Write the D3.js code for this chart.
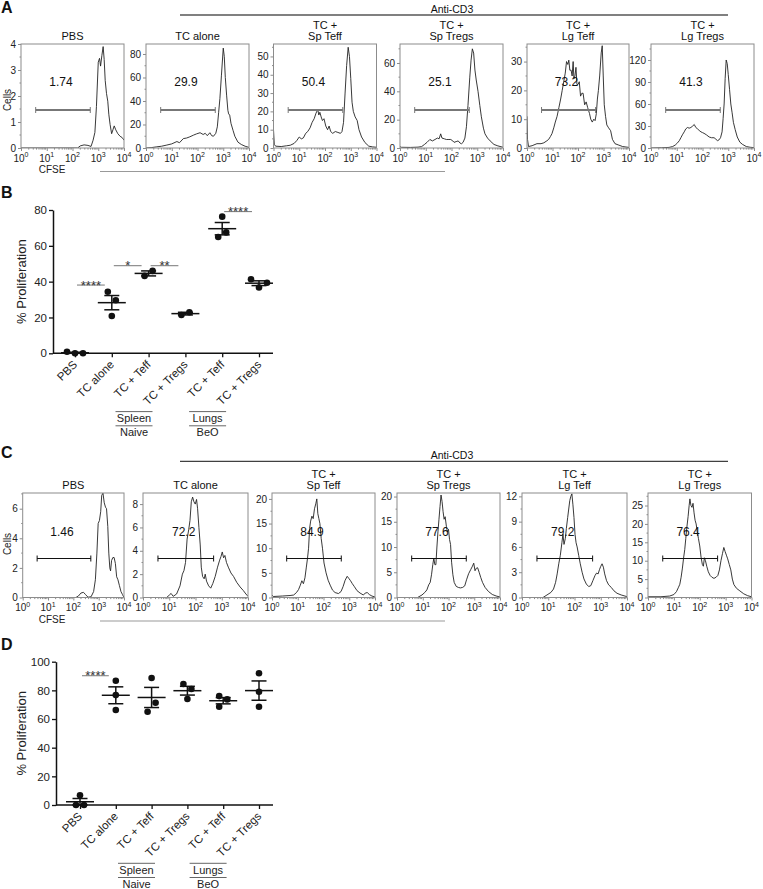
<!DOCTYPE html>
<html><head><meta charset="utf-8">
<script src="https://cdn.jsdelivr.net/npm/d3@7"></script>
<style>body{margin:0;background:#fff}svg{display:block}</style>
</head><body><svg id="c" width="763" height="889"></svg>
<script>
// ---------------- DATA ----------------
const histTitles = [["PBS"],["TC alone"],["TC +","Sp Teff"],["TC +","Sp Tregs"],["TC +","Lg Teff"],["TC +","Lg Tregs"]];
const gateLabelsA = ["1.74","29.9","50.4","25.1","73.2","41.3"];
const gateLabelsC = ["1.46","72.2","84.9","77.6","79.2","76.4"];
const decades = [0,1,2,3,4];
const gateRange = [0.57, 2.69];
const yTicksA = [[0,1,2,3,4],[0,20,40,60,80],[0,10,20,30,40,50],[0,20,40,60],[0,10,20,30],[0,30,60,90,120]];
const yMaxA = [4.0, 88.5, 56.8, 73.4, 36.1, 141.8];
const yTicksC = [[0,2,4,6],[0,2,4,6,8],[0,5,10,15,20],[0,5,10,15,20],[0,3,6,9,12],[0,5,10,15,20,25]];
const yMaxC = [7.06, 8.95, 21.2, 20.7, 12.4, 28.4];

// histograms: [log10 CFSE, cells]
const histA_PBS = [[0,0],[1,0],[2.2,0],[2.3,0.08],[2.45,0.12],[2.6,0.1],[2.72,0.06],[2.8,0.3],[2.87,0.6],[2.93,1.6],[3.0,3.3],[3.05,3.45],[3.09,3.15],[3.14,3.55],[3.19,3.9],[3.23,3.4],[3.27,2.6],[3.32,2.1],[3.37,1.8],[3.41,1.3],[3.46,0.9],[3.52,0.55],[3.57,0.7],[3.62,0.85],[3.68,0.7],[3.76,0.55],[3.85,0.45],[3.93,0.4],[4.0,0.3]];
const histA_TC = [[0,0],[0.2,0.3],[0.42,1],[0.6,1.5],[0.81,2.5],[1.0,3.5],[1.2,5.5],[1.3,4.5],[1.45,8],[1.58,8.5],[1.7,9.5],[1.85,11],[1.96,12],[2.1,13],[2.22,11.5],[2.3,12.5],[2.38,10.5],[2.48,13],[2.55,10.5],[2.62,10],[2.71,12.5],[2.77,18],[2.82,30],[2.87,42],[2.93,62],[3.0,85],[3.04,78],[3.08,60],[3.13,45],[3.18,32],[3.21,29],[3.25,28],[3.3,21],[3.38,15],[3.45,10],[3.57,5],[3.7,3],[3.85,1.5],[4.0,0.5]];
const histA_SpTeff = [[0,10],[0.03,2],[0.08,1],[0.3,0.8],[0.5,1.2],[0.65,1.5],[0.8,2.5],[0.9,4],[1.0,6],[1.08,5],[1.16,5.5],[1.25,8],[1.33,9],[1.42,11],[1.5,14],[1.58,16],[1.65,19],[1.72,21],[1.76,18],[1.8,19.5],[1.85,17],[1.9,15],[1.96,16],[2.03,12],[2.1,10],[2.16,12],[2.22,9],[2.3,8],[2.4,9],[2.5,8.5],[2.6,8],[2.66,9],[2.72,14],[2.78,30],[2.84,45],[2.9,55],[2.95,50],[3.0,38],[3.05,25],[3.1,20],[3.17,17],[3.25,15],[3.32,10],[3.42,6],[3.55,3],[3.7,1],[3.85,0.6],[4.0,0.4]];
const histA_SpTregs = [[0,1],[0.05,0.5],[0.4,0.4],[0.7,0.6],[0.84,1],[0.95,2.5],[1.05,4],[1.16,6],[1.26,5],[1.36,6],[1.45,7],[1.52,6.5],[1.58,10],[1.63,7],[1.72,6.5],[1.8,6],[1.9,6],[1.97,6],[2.05,5],[2.1,4],[2.18,4.5],[2.26,5],[2.33,3.5],[2.39,3],[2.45,4],[2.52,7],[2.58,15],[2.64,30],[2.71,50],[2.76,62],[2.81,70],[2.86,67],[2.91,55],[2.96,48],[3.03,40],[3.1,30],[3.16,22],[3.24,14],[3.3,10],[3.4,7],[3.5,5],[3.65,2.5],[3.8,1.5],[4.0,0.5]];
const histA_LgTeff = [[0,11],[0.02,3],[0.06,0.5],[0.2,0.8],[0.39,1.5],[0.55,1.5],[0.66,1.8],[0.78,2.5],[0.85,3],[0.92,4],[0.98,5],[1.05,7],[1.11,9],[1.18,11],[1.25,14],[1.32,17],[1.38,20],[1.44,23],[1.5,26],[1.55,30],[1.6,29],[1.64,30.5],[1.68,27],[1.73,27],[1.77,25],[1.81,30],[1.84,24],[1.88,25],[1.92,28],[1.96,22],[2.0,22],[2.05,23],[2.1,18],[2.15,19],[2.2,19],[2.26,15],[2.32,16],[2.38,14],[2.45,12],[2.5,10],[2.56,9],[2.62,10],[2.67,9.5],[2.72,12],[2.76,17],[2.8,20],[2.85,25],[2.91,33],[2.95,35.5],[2.99,25],[3.03,15],[3.08,11],[3.13,8],[3.2,7],[3.28,6],[3.35,3],[3.45,1.5],[3.6,1],[3.75,0.5],[4.0,0.2]];
const histA_LgTregs = [[0,0],[0.4,0.3],[0.7,0.8],[0.84,2],[0.94,4],[1.03,7],[1.1,10],[1.16,14],[1.22,18],[1.29,22],[1.35,26],[1.42,28],[1.48,27],[1.55,28],[1.62,30],[1.68,32],[1.74,28],[1.81,26],[1.87,24],[1.94,22],[2.0,21],[2.06,20],[2.15,18],[2.26,15],[2.35,14],[2.45,14],[2.52,12],[2.58,10],[2.64,11],[2.7,14],[2.76,22],[2.8,40],[2.84,60],[2.88,95],[2.92,120],[2.96,115],[3.0,100],[3.05,80],[3.1,60],[3.15,48],[3.2,35],[3.27,25],[3.35,15],[3.45,8],[3.55,5],[3.7,2],[3.85,1],[4.0,0.5]];

const histC_PBS = [[0,0],[1,0],[2.1,0],[2.2,0.1],[2.3,0.3],[2.4,0.35],[2.48,0.2],[2.58,0.02],[2.7,0.05],[2.8,0.4],[2.87,1.2],[2.93,3],[2.98,5],[3.03,5.2],[3.08,5.8],[3.12,6.9],[3.17,7.05],[3.22,6.4],[3.27,6.1],[3.31,6.0],[3.36,4.8],[3.4,3.0],[3.44,2.0],[3.47,1.8],[3.51,2.5],[3.56,2.7],[3.61,2.7],[3.66,2.3],[3.71,1.4],[3.76,1.2],[3.82,0.8],[3.88,0.4],[3.94,0.2],[4.0,0]];
const histC_TC = [[0,0],[0.9,0],[1.0,0.2],[1.07,0.35],[1.15,0.1],[1.28,0.3],[1.41,1],[1.5,2],[1.56,2.3],[1.62,3],[1.68,5],[1.74,5.8],[1.79,6.6],[1.84,8.2],[1.89,8.6],[1.94,8.2],[1.99,8.0],[2.04,8.4],[2.08,7.6],[2.13,6],[2.18,4.5],[2.22,2.6],[2.27,1.8],[2.33,1.6],[2.37,2.0],[2.42,1.4],[2.5,1.0],[2.58,0.8],[2.66,1.2],[2.75,1.8],[2.84,2.6],[2.92,3.2],[2.97,3.5],[3.02,3.9],[3.07,3.4],[3.12,3.6],[3.18,3.0],[3.25,2.6],[3.35,2.1],[3.45,1.8],[3.57,1.3],[3.7,0.9],[3.82,0.6],[3.92,0.3],[4.0,0.1]];
const histC_SpTeff = [[0,0.5],[0.05,0.2],[0.4,0.3],[0.7,0.4],[0.84,0.5],[0.95,1],[1.03,1.6],[1.1,2.5],[1.16,3.4],[1.22,2.8],[1.28,4],[1.33,6],[1.38,8],[1.42,10],[1.46,14],[1.5,15.5],[1.55,16.5],[1.6,16],[1.65,18],[1.7,19],[1.74,20],[1.78,17],[1.82,16],[1.86,15],[1.91,12],[1.96,10],[2.02,7],[2.1,5],[2.18,3.5],[2.26,2.5],[2.35,1.5],[2.45,1],[2.58,0.8],[2.68,1.2],[2.76,2.2],[2.84,3.5],[2.92,4.3],[2.98,3.9],[3.05,3.4],[3.12,2.8],[3.2,2.2],[3.3,1.4],[3.42,0.9],[3.55,0.5],[3.62,0.9],[3.7,1.0],[3.78,0.6],[3.88,0.3],[4.0,0.1]];
const histC_SpTregs = [[0,0],[0.8,0],[0.97,0.5],[1.08,1],[1.16,1.5],[1.23,2.5],[1.29,3],[1.34,4.5],[1.39,6.5],[1.43,7.8],[1.47,6.5],[1.51,6.5],[1.55,10],[1.59,13],[1.63,15.5],[1.67,18],[1.71,20.3],[1.75,19],[1.79,17],[1.83,15.5],[1.87,16],[1.92,14],[1.96,13],[2.0,13.5],[2.04,11.5],[2.08,10.5],[2.12,7],[2.17,4.5],[2.22,3],[2.3,2.2],[2.38,2.0],[2.46,1.9],[2.55,2],[2.63,2.3],[2.7,3.5],[2.78,4.7],[2.86,5.5],[2.93,6.2],[2.98,6.8],[3.03,5.3],[3.08,5.8],[3.13,5.9],[3.19,5],[3.25,4],[3.32,3],[3.42,2],[3.55,1.2],[3.7,0.6],[3.85,0.3],[4.0,0.1]];
const histC_LgTeff = [[0,0],[0.8,0],[0.95,0.3],[1.1,0.6],[1.2,1],[1.28,1.8],[1.34,2.8],[1.4,4],[1.46,5],[1.52,6.5],[1.56,7.5],[1.6,6.3],[1.65,7],[1.69,8.2],[1.74,9.5],[1.78,10.5],[1.82,11.5],[1.86,12],[1.9,12.3],[1.94,11],[1.98,9.5],[2.02,7.5],[2.06,6.5],[2.1,6],[2.16,5],[2.22,4],[2.29,3],[2.36,2.2],[2.45,1.6],[2.54,1.3],[2.62,1.4],[2.7,2],[2.78,2.6],[2.84,2.9],[2.9,2.8],[2.95,3.3],[3.0,3.7],[3.05,4.0],[3.1,3.6],[3.15,2.8],[3.22,2.0],[3.3,1.5],[3.4,1.2],[3.5,0.8],[3.62,0.5],[3.78,0.3],[4.0,0.1]];
const histC_LgTregs = [[0,0.2],[0.5,0.2],[0.84,0.4],[1.0,0.8],[1.1,1.6],[1.18,2.8],[1.23,3.6],[1.28,5.5],[1.33,8],[1.38,11],[1.42,13],[1.46,16],[1.5,19],[1.55,22],[1.59,25],[1.62,26.8],[1.66,25],[1.7,24.5],[1.74,25.6],[1.78,23],[1.82,21],[1.86,20],[1.9,18],[1.95,16],[2.0,14],[2.05,11],[2.1,9],[2.14,8.5],[2.18,10.8],[2.22,10],[2.27,8.5],[2.33,7],[2.4,6],[2.47,5.5],[2.55,5.2],[2.63,5.5],[2.7,6],[2.76,7.5],[2.82,10],[2.88,12],[2.93,13.6],[2.98,12.5],[3.03,11.5],[3.08,10.5],[3.14,9],[3.2,7.5],[3.26,5],[3.32,3.5],[3.42,2.5],[3.55,1.8],[3.7,1],[3.85,0.5],[4.0,0.2]];

// dot plots
const categories = ["PBS","TC alone","TC + Teff","TC + Tregs","TC + Teff","TC + Tregs"];
const bracketTop = ["Spleen","Lungs"];
const bracketBottom = ["Naive","BeO"];
const bracketCats = [[2,3],[4,5]];
const yTicksB = [0,20,40,60,80];
const valuesB = [[0,0.9,0],[29.6,34.4,20.8],[46,43.2],[22.9,21.4],[76.3,67.5,64.9],[36.7,41.3,39.4]];
const sigB = [[0,1,38.1,"****"],[1,2,48.9,"*"],[2,3,48.9,"**"],[4,5,79.1,"****"]];
const yTicksD = [0,20,40,60,80,100];
const valuesD = [[6.8,0,0],[86.7,76.7,66.3],[88.6,71.4,65.1],[80.9,84.4,74.0],[73.7,76,68.6],[91.9,79,68.6]];
const sigD = [[0,1,90.2,"****"]];

// ---------------- DRAWING ----------------
const FONT = "'Liberation Sans', Arial, Helvetica, sans-serif";
const svg = d3.select("#c").attr("font-family", FONT);

function letter(t, x, y){
  svg.append("text").attr("x",x).attr("y",y).attr("font-size",16).attr("font-weight","bold").attr("fill","#111").text(t);
}

function histRow(o){
  const g = svg.append("g");
  o.data.forEach((series,i)=>{
    const L=o.lefts[i], W=o.widths[i];
    const x=d3.scaleLinear().domain([0,4]).range([L,L+W]);
    const y=d3.scaleLinear().domain([0,o.yMax[i]]).range([o.bottom,o.top]);
    const p=g.append("g");
    const cid=o.id+"clip"+i;
    p.append("clipPath").attr("id",cid).append("rect").attr("x",L).attr("y",o.top).attr("width",W).attr("height",o.bottom-o.top);
    p.append("path").datum(series).attr("clip-path",`url(#${cid})`)
      .attr("d",d3.line().x(d=>x(d[0])).y(d=>y(d[1])))
      .attr("fill","none").attr("stroke","#222").attr("stroke-width",0.9);
    p.append("rect").attr("x",L).attr("y",o.top).attr("width",W).attr("height",o.bottom-o.top)
      .attr("fill","none").attr("stroke","#8c8c8c").attr("stroke-width",1);
    // y axis
    const yg=p.append("g").attr("transform",`translate(${L},0)`)
      .call(d3.axisLeft(y).tickValues(o.yTicks[i]).tickFormat(d3.format("d")).tickSize(3).tickPadding(2));
    yg.select(".domain").remove();
    yg.selectAll("line").attr("stroke","#8c8c8c");
    yg.selectAll("text").attr("font-size",10).attr("fill","#222").attr("font-family",FONT);
    // minor y ticks at half steps
    const t=o.yTicks[i], step=t[1]-t[0];
    const minors=[]; for(let v=step/2; v<o.yMax[i]; v+=step){ if(!t.includes(v)) minors.push(v);}
    p.selectAll(null).data(minors).enter().append("line")
      .attr("x1",L-1.5).attr("x2",L).attr("y1",d=>y(d)).attr("y2",d=>y(d)).attr("stroke","#8c8c8c");
    // x axis ticks (log)
    const xg=p.append("g").attr("transform",`translate(0,${o.bottom})`)
      .call(d3.axisBottom(x).tickValues(decades).tickSize(3).tickFormat(""));
    xg.select(".domain").remove();
    xg.selectAll("line").attr("stroke","#8c8c8c");
    const logMinor=[]; for(let dd=0;dd<4;dd++) for(let k=2;k<10;k++) logMinor.push(dd+Math.log10(k));
    p.selectAll(null).data(logMinor).enter().append("line")
      .attr("x1",d=>x(d)).attr("x2",d=>x(d)).attr("y1",o.bottom).attr("y2",o.bottom+1.6).attr("stroke","#8c8c8c");
    decades.forEach(dv=>{
      const tx=p.append("text").attr("x",x(dv)).attr("y",o.bottom+13.5).attr("text-anchor","middle").attr("font-size",10).attr("fill","#222");
      tx.append("tspan").text("10");
      tx.append("tspan").attr("font-size",7).attr("dy",-4.5).text(dv);
    });
    // gate
    const gy=o.gateY;
    p.append("line").attr("x1",x(gateRange[0])).attr("x2",x(gateRange[1])).attr("y1",gy).attr("y2",gy)
      .attr("stroke",o.gateColor).attr("stroke-width",o.gateWidth);
    gateRange.forEach(gv=>p.append("line").attr("x1",x(gv)).attr("x2",x(gv)).attr("y1",gy-3).attr("y2",gy+3)
      .attr("stroke",o.gateColor).attr("stroke-width",1));
    p.append("text").attr("x",x(1.55)).attr("y",o.top+o.labelDy).attr("text-anchor","middle")
      .attr("font-size",12).attr("fill","#111").text(o.labels[i]);
    // title
    const tt=histTitles[i];
    tt.forEach((line,j)=>{
      const yy = tt.length===1 ? o.titleY2 : (j===0? o.titleY1 : o.titleY2);
      p.append("text").attr("x",L+W/2).attr("y",yy).attr("text-anchor","middle").attr("font-size",11).attr("fill","#111").text(line);
    });
  });
  // Anti-CD3
  svg.append("line").attr("x1",180).attr("x2",728).attr("y1",o.antiY).attr("y2",o.antiY)
    .attr("stroke",o.antiColor).attr("stroke-width",o.antiWidth);
  svg.append("text").attr("x",452).attr("y",o.antiY-2.5).attr("text-anchor","middle").attr("font-size",10.5).attr("fill","#111").text("Anti-CD3");
  // Cells
  svg.append("text").attr("transform",`translate(7,${o.cellsY}) rotate(-90)`).attr("text-anchor","middle")
    .attr("dy","0.35em").attr("font-size",10).attr("fill","#222").text("Cells");
  // CFSE
  svg.append("text").attr("x",52).attr("y",o.bottom+25).attr("text-anchor","middle").attr("font-size",10).attr("fill","#222").text("CFSE");
  svg.append("line").attr("x1",100).attr("x2",445).attr("y1",o.bottom+23.5).attr("y2",o.bottom+23.5)
    .attr("stroke","#999").attr("stroke-width",1);
}

function beeswarm(vals, y){
  const offs=[], py=vals.map(v=>y(v));
  const cand=[0,-8,8,-16,16];
  vals.forEach((v,i)=>{
    for(const c of cand){
      let ok=true;
      for(let j=0;j<i;j++){ if(Math.abs(py[j]-py[i])<9.5 && Math.abs(offs[j]-c)<8){ok=false;break;} }
      if(ok){offs[i]=c;break;}
    }
  });
  const comp=vals.map((_,i)=>i);
  const find=a=>comp[a]===a?a:(comp[a]=find(comp[a]));
  for(let i=0;i<vals.length;i++)for(let j=i+1;j<vals.length;j++) if(Math.abs(py[i]-py[j])<9.5) comp[find(i)]=find(j);
  const groups=d3.group(vals.map((_,i)=>i), i=>find(i));
  groups.forEach(idx=>{
    const mn=d3.min(idx,i=>offs[i]), mx=d3.max(idx,i=>offs[i]);
    const sh=-(mn+mx)/2; idx.forEach(i=>offs[i]+=sh);
  });
  return offs;
}

function dotPlot(o){
  const g=svg.append("g");
  const x=d3.scalePoint().domain(d3.range(categories.length)).range(o.xRange);
  const y=d3.scaleLinear().domain([0,o.yMax]).range(o.yRange);
  const y0=y(0);
  const yg=g.append("g").attr("transform",`translate(${o.axisX0},0)`)
    .call(d3.axisLeft(y).tickValues(o.yTicks).tickSize(4).tickSizeOuter(0).tickPadding(2));
  yg.select(".domain").attr("stroke","#111").attr("stroke-width",1.5);
  yg.selectAll(".tick line").attr("stroke","#111").attr("stroke-width",1.3);
  yg.selectAll("text").attr("font-size",11.5).attr("fill","#222").attr("font-family",FONT);
  g.append("line").attr("x1",o.axisX0).attr("x2",o.axisX1).attr("y1",y0).attr("y2",y0).attr("stroke","#111").attr("stroke-width",1.5);
  const xg=g.append("g").attr("transform",`translate(0,${y0})`).call(d3.axisBottom(x).tickSize(4).tickFormat(""));
  xg.select(".domain").remove();
  xg.selectAll("line").attr("stroke","#111").attr("stroke-width",1.3);
  categories.forEach((c,i)=>{
    g.append("text").attr("transform",`translate(${x(i)+3},${y0+12}) rotate(-45)`)
      .attr("text-anchor","end").attr("font-size",11.5).attr("fill","#222").text(c);
  });
  g.append("text").attr("transform",`translate(26,${(y(0)+y(o.yMax))/2}) rotate(-90)`).attr("text-anchor","middle")
    .attr("font-size",13).attr("fill","#222").text("% Proliferation");
  o.values.forEach((vals,i)=>{
    const cx=x(i), m=d3.mean(vals), se=d3.deviation(vals)/Math.sqrt(vals.length);
    const offs=beeswarm(vals,y);
    g.append("line").attr("x1",cx-14).attr("x2",cx+14).attr("y1",y(m)).attr("y2",y(m)).attr("stroke","#111").attr("stroke-width",1.5);
    g.append("line").attr("x1",cx).attr("x2",cx).attr("y1",y(m-se)).attr("y2",y(m+se)).attr("stroke","#111").attr("stroke-width",1.5);
    [m-se,m+se].forEach(v=>g.append("line").attr("x1",cx-7.5).attr("x2",cx+7.5).attr("y1",y(v)).attr("y2",y(v)).attr("stroke","#111").attr("stroke-width",1.5));
    g.selectAll(null).data(vals).enter().append("circle")
      .attr("cx",(d,k)=>cx+offs[k]).attr("cy",d=>y(d)).attr("r",3.3).attr("fill","#111");
  });
  o.sig.forEach(([a,b,v,lab])=>{
    const x1=x(a)+2, x2=x(b)-7, yy=y(v);
    g.append("line").attr("x1",x1).attr("x2",x2).attr("y1",yy).attr("y2",yy).attr("stroke","#777").attr("stroke-width",1);
    g.append("text").attr("x",(x1+x2)/2).attr("y",yy+4.5).attr("text-anchor","middle").attr("font-size",13).attr("fill","#333").text(lab);
  });
  bracketCats.forEach(([a,b],k)=>{
    const c=(x(a)+x(b))/2-33;
    [58.3,72.5].forEach(dy=>g.append("line").attr("x1",c-18.5).attr("x2",c+18.5).attr("y1",y0+dy).attr("y2",y0+dy).attr("stroke","#666").attr("stroke-width",1));
    g.append("text").attr("x",c).attr("y",y0+68.5).attr("text-anchor","middle").attr("font-size",11).attr("fill","#222").text(bracketTop[k]);
    g.append("text").attr("x",c).attr("y",y0+83).attr("text-anchor","middle").attr("font-size",11).attr("fill","#222").text(bracketBottom[k]);
  });
}

letter("A",1,13); letter("B",1,198); letter("C",1,458); letter("D",1,650);

histRow({id:"a", data:[histA_PBS,histA_TC,histA_SpTeff,histA_SpTregs,histA_LgTeff,histA_LgTregs],
  lefts:[21,146,273.5,400,527,651], widths:[103,103,103,103,102,103], top:44, bottom:148,
  yMax:yMaxA, yTicks:yTicksA, labels:gateLabelsA, gateY:110, gateColor:"#777", gateWidth:2, labelDy:42,
  titleY1:28.5, titleY2:39.5, antiY:15, antiColor:"#808080", antiWidth:2, cellsY:100});

histRow({id:"c", data:[histC_PBS,histC_TC,histC_SpTeff,histC_SpTregs,histC_LgTeff,histC_LgTregs],
  lefts:[22.7,143,272,397,522,648], widths:[101.3,105,103,103,105,103.5], top:493, bottom:597.5,
  yMax:yMaxC, yTicks:yTicksC, labels:gateLabelsC, gateY:558.5, gateColor:"#111", gateWidth:1, labelDy:43,
  titleY1:477.5, titleY2:488.5, antiY:461.3, antiColor:"#111", antiWidth:1, cellsY:544});

dotPlot({values:valuesB, sig:sigB, yTicks:yTicksB, yMax:80, xRange:[75,259], yRange:[353.3,210], axisX0:53, axisX1:273});
dotPlot({values:valuesD, sig:sigD, yTicks:yTicksD, yMax:100, xRange:[80,259], yRange:[805,661.7], axisX0:56, axisX1:273});
</script></body></html>
